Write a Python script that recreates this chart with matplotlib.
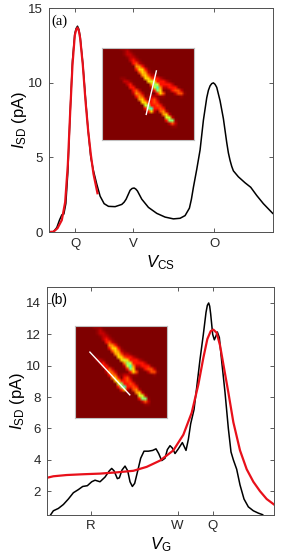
#!/usr/bin/env python3
"""
Two current traces with fitted curves and stability map insets
"""

import matplotlib
matplotlib.use('Agg')
import numpy as np
import matplotlib.pyplot as plt
from matplotlib.colors import PowerNorm

plt.rcParams['font.family'] = ['Liberation Sans', 'DejaVu Sans']
plt.rcParams['mathtext.fontset'] = 'custom'
plt.rcParams['mathtext.rm'] = 'Liberation Sans'
plt.rcParams['mathtext.it'] = 'Liberation Sans:italic'

# panel (a), gate voltage in arbitrary units
A_BLACK_X = [145, 160, 170, 178, 185, 191, 197, 203, 210, 217, 224, 228, 232, 236, 240, 248, 256,
             264, 272, 280, 290, 300, 312, 325, 345, 365, 372, 378, 384, 390, 396, 402, 407, 412, 425,
             445, 470, 495, 520, 540, 555, 568, 574, 580, 590, 600, 610, 620, 625, 630, 635, 640, 645,
             650, 660, 670, 680, 685, 690, 695, 700, 715, 735, 752, 770, 790, 818]
A_BLACK_Y = [0, 0.02, 0.3, 0.8, 1.15, 1.2, 1.9, 4, 8, 11.5, 13.3, 13.65, 13.8, 13.6, 13.1, 11.3, 9,
             6.8, 5, 4.1, 3.2, 2.4, 1.9, 1.72, 1.7, 1.85, 2.0, 2.2, 2.5, 2.8, 2.92, 2.95, 2.88, 2.75, 2.2,
             1.65, 1.25, 1.0, 0.88, 0.92, 1.1, 1.6, 2.2, 3, 4.2, 5.5, 7.5, 9.0, 9.5, 9.8, 9.95, 10, 9.9,
             9.7, 8.8, 7.6, 6, 5.3, 4.8, 4.4, 4.1, 3.7, 3.3, 3.0, 2.45, 1.9, 1.25]
A_RED_X = [145, 160, 172, 185, 195, 203, 210, 217, 224, 228, 232, 236, 240, 248, 256, 264, 272, 280, 292]
A_RED_Y = [0, 0.02, 0.25, 0.8, 2.0, 4.5, 8, 11.2, 13.2, 13.55, 13.7, 13.5, 13, 11.2, 8.8, 6.8, 5.2, 3.9, 2.6]

# panel (b)
B_BLACK_X = [152, 160, 175, 190, 205, 220, 235, 248, 262, 275, 285, 300, 315, 328, 335,
             342, 352, 358, 366, 375, 383, 390, 397, 404, 412, 422, 432, 445, 458, 468,
             476, 485, 495, 502, 510, 517, 525, 535, 547, 558, 565, 572, 582, 590, 600,
             610, 618, 622, 626, 629, 632, 638, 643, 648, 652, 658, 665, 675, 685, 693, 700, 710,
             720, 732, 745, 760, 775, 788]
B_BLACK_Y = [0.5, 0.75, 0.9, 1.15, 1.5, 1.9, 2.1, 2.3, 2.35, 2.6, 2.7, 2.6, 2.9, 3.3, 3.45,
             3.3, 2.8, 2.85, 3.35, 3.6, 3.3, 2.6, 2.3, 2.5, 3.2, 4.1, 4.55, 4.55, 4.6, 4.7,
             4.4, 3.95, 4.1, 4.65, 4.9, 4.75, 4.4, 4.7, 5.1, 4.6, 5.3, 6.3, 7.2, 8.6, 10.4,
             12, 13.4, 13.85, 14, 13.8, 13.3, 12, 11.65, 11.9, 12.15, 11.8, 10.3, 8.3, 6, 4.5, 4, 3.4,
             2.4, 1.5, 1.0, 0.75, 0.6, 0.5]
B_RED_X = [140, 160, 200, 250, 300, 350, 400, 440, 480, 520, 550, 575, 595, 610, 622,
           632, 640, 650, 660, 670, 685, 700, 720, 740, 760, 780, 800, 822]
B_RED_Y = [2.85, 2.95, 3.03, 3.08, 3.12, 3.2, 3.3, 3.55, 3.95, 4.6, 5.6, 7.0, 8.8, 10.5, 11.7,
           12.2, 12.3, 12.1, 11.3, 10.1, 8.3, 6.4, 4.6, 3.4, 2.6, 2.0, 1.5, 1.15]

A_TICKS = [225, 400, 642]
A_TICK_LABELS = ['Q', 'V', 'O']
B_TICKS = [272, 533, 638]
B_TICK_LABELS = ['R', 'W', 'Q']

# inset map, one digit per cell
MAP_ROWS = [
    '000000111',
    '0000000121',
    '00000001221',
    '000000001221',
    '0000000002321',
    '00000000003421',
    '000000000005531',
    '0000000000036631',
    '00000000000046521',
    '0000000000000564221',
    '000000110000006643321',
    '00000002210000067633321',
    '000000002310000058733332',
    '00000000033100002795223331',
    '000000000034200003861013442',
    '0000000000254200003640002441',
    '000000000003541122111000001',
    '0000000000005630342',
    '00000000000006633431',
    '000000000000007833431',
    '000000000000003893343',
    '0000000000000003620452',
    '00000000000000000000562',
    '000000000000000000000772',
    '0000000000000000000003881',
    '0000000000000000000000242',
    '0000000000000000000000011',
]
MAP_SIZE = 31
A_CUT_X = [14.9, 18.3]
A_CUT_Y = [22.4, 7.8]
B_CUT_X = [5.0, 18.4]
B_CUT_Y = [8.8, 23.2]


def px_axes(fig, left, top, right, bottom):
    """
    Axes placed by pixel edges of the 304x560 figure
    """
    return fig.add_axes([left / 304, 1 - bottom / 560, (right - left) / 304, (bottom - top) / 560])


def get_map():
    """
    The inset map as a float array
    """
    rows = [[int(c) for c in row.ljust(MAP_SIZE, '0')] for row in MAP_ROWS]
    while len(rows) < MAP_SIZE:
        rows.append([0] * MAP_SIZE)
    return np.array(rows, dtype=float)


def draw_inset(fig, box, cut_x, cut_y):
    """
    Draws the map and the white cut line
    """
    ax = px_axes(fig, *box)
    ax.imshow(get_map(), cmap='jet_r', norm=PowerNorm(gamma=1.5, vmin=0, vmax=13),
              interpolation='bilinear', extent=(0, MAP_SIZE, MAP_SIZE, 0), aspect='auto')
    ax.plot(cut_x, cut_y, color='white', lw=1)
    ax.set_xlim(0, MAP_SIZE)
    ax.set_ylim(MAP_SIZE, 0)
    ax.set_xticks([])
    ax.set_yticks([])
    for spine in ax.spines.values():
        spine.set_color('#c0c0c0')
        spine.set_linewidth(0.8)


def draw_panel(ax, black, red, xticks, xlabels, xlabel):
    """
    Draws one trace with its fit and the axis decoration
    """
    ax.plot(black[0], black[1], color='black', lw=1.1)
    ax.plot(red[0], red[1], color='#e8101a', lw=1.6)
    ax.set_xticks(xticks)
    ax.set_xticklabels(xlabels)
    ax.tick_params(direction='in', top=True, right=True, length=3, width=0.6,
                   color='#404040', labelcolor='#262626', labelsize=9.5, pad=4)
    ax.set_xlabel(xlabel, fontsize=12, labelpad=2.5)
    ax.set_ylabel(r'$I_{\mathrm{SD}}$ (pA)', fontsize=12, labelpad=-0.5)
    for spine in ax.spines.values():
        spine.set_color('#505050')
        spine.set_linewidth(0.7)


def do_main_function():
    """
    Builds the figure
    """
    fig = plt.figure(figsize=(3.04, 5.6), dpi=100)

    ax_a = px_axes(fig, 48.5, 8.3, 272.7, 232)
    draw_panel(ax_a, (A_BLACK_X, A_BLACK_Y), (A_RED_X, A_RED_Y), A_TICKS, A_TICK_LABELS,
               r'$V_{\mathrm{CS}}$')
    ax_a.set_xlim(145, 818)
    ax_a.set_ylim(0, 15)
    ax_a.set_yticks([0, 5, 10, 15])
    ax_a.text(0.015, 0.97, '(a)', transform=ax_a.transAxes, family='Liberation Serif',
              fontsize=10.5, va='top')

    ax_b = px_axes(fig, 46.7, 287.3, 274, 514.7)
    draw_panel(ax_b, (B_BLACK_X, B_BLACK_Y), (B_RED_X, B_RED_Y), B_TICKS, B_TICK_LABELS,
               r'$V_{\mathrm{G}}$')
    ax_b.set_xlim(140, 822)
    ax_b.set_ylim(0.5, 15)
    ax_b.set_yticks([2, 4, 6, 8, 10, 12, 14])
    ax_b.text(0.015, 0.975, '(b)', transform=ax_b.transAxes, fontsize=10, va='top')

    draw_inset(fig, (101.7, 47.7, 194.3, 140), A_CUT_X, A_CUT_Y)
    draw_inset(fig, (75, 326, 167.3, 418), B_CUT_X, B_CUT_Y)

    fig.savefig('out.png', dpi=100)


if __name__ == '__main__':
    do_main_function()
